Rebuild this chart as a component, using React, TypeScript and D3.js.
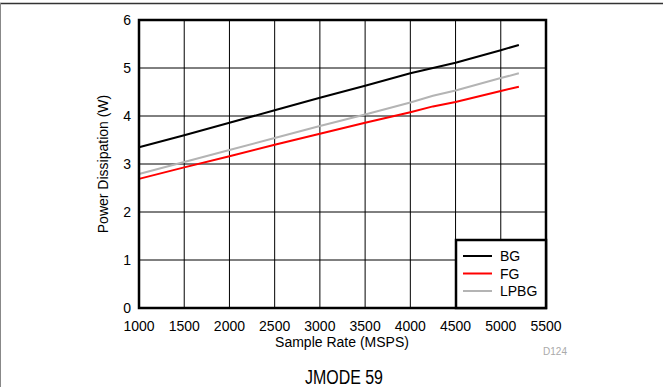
import React from "react";
import * as d3 from "d3";

const sampleRates = [1000, 1500, 2000, 2500, 3000, 3500, 4000, 4250, 4500, 5000, 5200];
const bgValues = [3.35, 3.6, 3.86, 4.12, 4.38, 4.63, 4.89, 5.0, 5.11, 5.37, 5.48];
const fgValues = [2.69, 2.93, 3.16, 3.4, 3.63, 3.86, 4.08, 4.2, 4.29, 4.52, 4.61];
const lpbgValues = [2.79, 3.04, 3.29, 3.54, 3.79, 4.03, 4.28, 4.42, 4.53, 4.79, 4.89];
const xTicks = [1000, 1500, 2000, 2500, 3000, 3500, 4000, 4500, 5000, 5500];
const yTicks = [0, 1, 2, 3, 4, 5, 6];
const seriesNames = ["BG", "FG", "LPBG"];
const seriesColors = ["#000000", "#ff0000", "#b4b4b4"];

export default function App() {
  const W = 663, H = 387;
  const x = d3.scaleLinear().domain([1000, 5500]).range([139, 546]);
  const y = d3.scaleLinear().domain([0, 6]).range([308, 20]);
  const line = d3
    .line<number>()
    .x((_, i) => x(sampleRates[i]))
    .y((d) => y(d));
  const series = [bgValues, fgValues, lpbgValues];
  const font = "'Liberation Sans', Arial, Helvetica, sans-serif";

  const legX = 456, legY = 240, legW = 90, legH = 68;

  return (
    <svg
      width={W}
      height={H}
      style={{ position: "absolute", left: 0, top: 0, display: "block", background: "#fff" }}
      fontFamily={font}
    >
      <line x1={0} x2={W} y1={3.5} y2={3.5} stroke="#333" strokeWidth={1.5} />
      <line x1={0.5} x2={0.5} y1={3} y2={H} stroke="#888" strokeWidth={1} />

      {xTicks.slice(1, -1).map((t) => (
        <line key={"gx" + t} x1={x(t)} x2={x(t)} y1={y(6)} y2={y(0)} stroke="#000" strokeWidth={1} />
      ))}
      {yTicks.slice(1, -1).map((t) => (
        <line key={"gy" + t} x1={x(1000)} x2={x(5500)} y1={y(t)} y2={y(t)} stroke="#000" strokeWidth={1} />
      ))}

      {series.map((s, i) => (
        <path key={seriesNames[i]} d={line(s) || ""} fill="none" stroke={seriesColors[i]} strokeWidth={2} />
      ))}

      <rect x={x(1000)} y={y(6)} width={x(5500) - x(1000)} height={y(0) - y(6)} fill="none" stroke="#000" strokeWidth={2.5} />

      <rect x={legX} y={legY} width={legW} height={legH} fill="#fff" stroke="#000" strokeWidth={2.5} />
      {seriesNames.map((n, i) => (
        <g key={"leg" + n}>
          <line x1={463} x2={492} y1={256 + i * 17.5} y2={256 + i * 17.5} stroke={seriesColors[i]} strokeWidth={2} />
          <text x={500} y={256 + i * 17.5 + 5} fontSize={14} fill="#000">
            {n}
          </text>
        </g>
      ))}

      {yTicks.map((t) => (
        <text key={"yt" + t} x={131} y={y(t) + 5} fontSize={14} textAnchor="end" fill="#000">
          {t}
        </text>
      ))}
      {xTicks.map((t) => (
        <text key={"xt" + t} x={x(t)} y={331} fontSize={14} textAnchor="middle" fill="#000">
          {t}
        </text>
      ))}

      <text x={342} y={347} fontSize={14} textAnchor="middle" fill="#000">
        Sample Rate (MSPS)
      </text>
      <text transform="translate(108,164) rotate(-90)" fontSize={14} textAnchor="middle" fill="#000">
        Power Dissipation (W)
      </text>
      <text x={555} y={355} fontSize={10} textAnchor="middle" fill="#aaa">
        D124
      </text>
      <text x={305} y={384} fontSize={20} textLength={78} lengthAdjust="spacingAndGlyphs" fill="#000">
        JMODE 59
      </text>
    </svg>
  );
}
